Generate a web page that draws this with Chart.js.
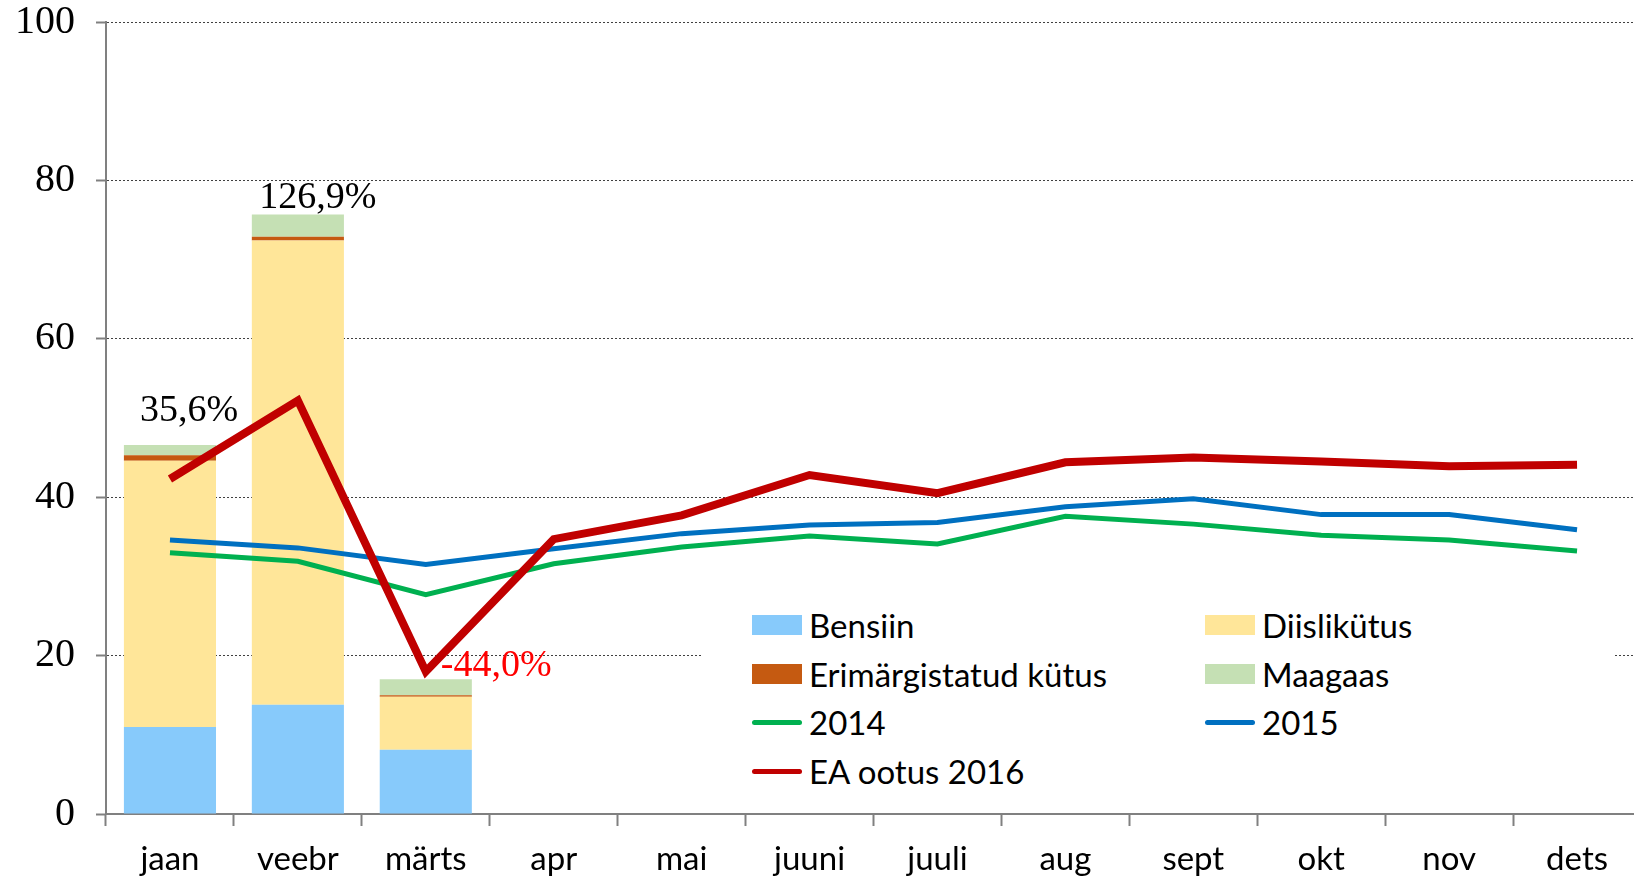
<!DOCTYPE html>
<html>
<head>
<meta charset="utf-8">
<script src="https://cdn.jsdelivr.net/npm/chart.js@4.4.1/dist/chart.umd.min.js"></script>
<style>
  html, body { margin: 0; padding: 0; background: #fff; overflow: hidden; }
  #wrap { position: relative; width: 1634px; height: 881px; overflow: hidden; }
  #fuelChart { position: absolute; left: 0; top: 0; }
  #legendBox { position: absolute; left: 703px; top: 592px; width: 910px; height: 210px; background: #fff; }
  .item { position: absolute; height: 40px; display: flex; align-items: center;
          font-family: Lato, "Open Sans", sans-serif; font-size: 33px; color: #000; white-space: nowrap; }
  .box { width: 50px; height: 20px; margin-right: 7px; }
  .line { width: 50px; height: 5px; border-radius: 3px; margin-right: 7px; }
</style>
</head>
<body>
<div id="wrap">
  <canvas id="fuelChart" width="1641" height="881"></canvas>
  <div id="legendBox"></div>
</div>
<script>
// months
const months = ['jaan', 'veebr', 'märts', 'apr', 'mai', 'juuni', 'juuli', 'aug', 'sept', 'okt', 'nov', 'dets'];

// stacked bars (2016)
const bensiin = [11.0, 13.8, 8.1, null, null, null, null, null, null, null, null, null];
const diisel  = [33.6, 58.6, 6.7, null, null, null, null, null, null, null, null, null];
const erim    = [0.7, 0.5, 0.2, null, null, null, null, null, null, null, null, null];
const maagaas = [1.3, 2.8, 2.0, null, null, null, null, null, null, null, null, null];

// lines
const y2014 = [33.0, 31.9, 27.7, 31.6, 33.7, 35.1, 34.1, 37.6, 36.6, 35.2, 34.6, 33.2];
const y2015 = [34.6, 33.6, 31.5, 33.5, 35.4, 36.5, 36.8, 38.8, 39.8, 37.8, 37.8, 35.9];
const ea2016 = [42.3, 52.2, 18.0, 34.7, 37.7, 42.8, 40.5, 44.4, 45.0, 44.5, 43.9, 44.1];

// change labels above the bars
const changeLabels = ['35,6%', '126,9%', '-44,0%'];

const yTicks = [0, 20, 40, 60, 80, 100];

const colors = {
    bensiin: '#87CAFB',
    diisel: '#FFE699',
    erim: '#C55A11',
    maagaas: '#C5E0B4',
    y2014: '#00B050',
    y2015: '#0070C0',
    ea2016: '#C00000'
};

// draws the % labels on top of the bar stacks
const changeLabelPlugin = {
    id: 'changeLabels',
    afterDatasetsDraw(chart) {
        const ctx = chart.ctx;
        const x = chart.scales.x;
        const y = chart.scales.y;
        const offsets = [
            { dx: 19, dy: -24, color: '#000', align: 'center' },
            { dx: 20, dy: -6, color: '#000', align: 'center' },
            { dx: 15, dy: -3, color: '#FF0000', align: 'left' }
        ];
        ctx.save();
        ctx.font = '38px "Liberation Serif", serif';
        ctx.textBaseline = 'alphabetic';
        changeLabels.forEach((txt, i) => {
            const total = bensiin[i] + diisel[i] + erim[i] + maagaas[i];
            const o = offsets[i];
            ctx.fillStyle = o.color;
            ctx.textAlign = o.align;
            ctx.fillText(txt, x.getPixelForValue(i) + o.dx, y.getPixelForValue(total) + o.dy);
        });
        ctx.restore();
    }
};

new Chart(document.getElementById('fuelChart'), {
    type: 'bar',
    data: {
        labels: months,
        datasets: [
            { type: 'line', label: 'EA ootus 2016', data: ea2016, borderColor: colors.ea2016, borderWidth: 8, pointRadius: 0, tension: 0, stack: 's2016', order: 1 },
            { type: 'line', label: '2015', data: y2015, borderColor: colors.y2015, borderWidth: 5, pointRadius: 0, tension: 0, stack: 's2015', order: 2 },
            { type: 'line', label: '2014', data: y2014, borderColor: colors.y2014, borderWidth: 5, pointRadius: 0, tension: 0, stack: 's2014', order: 3 },
            { label: 'Bensiin', data: bensiin, backgroundColor: colors.bensiin, stack: 'fuel', order: 10 },
            { label: 'Diislikütus', data: diisel, backgroundColor: colors.diisel, stack: 'fuel', order: 10 },
            { label: 'Erimärgistatud kütus', data: erim, backgroundColor: colors.erim, stack: 'fuel', order: 10 },
            { label: 'Maagaas', data: maagaas, backgroundColor: colors.maagaas, stack: 'fuel', order: 10 }
        ]
    },
    options: {
        responsive: false,
        animation: false,
        devicePixelRatio: 1,
        layout: { padding: { top: 22, right: 0, bottom: 0, left: 0 } },
        datasets: { bar: { categoryPercentage: 1, barPercentage: 0.72 } },
        plugins: { legend: { display: false }, tooltip: { enabled: false } },
        scales: {
            x: {
                stacked: true,
                offset: true,
                grid: { drawOnChartArea: false, drawTicks: true, tickLength: 12, tickColor: '#808080', tickWidth: 2, offset: true },
                border: { color: '#808080', width: 2 },
                ticks: { color: '#000', font: { family: 'Lato', size: 33 }, padding: 14, maxRotation: 0, autoSkip: false },
                afterFit(scale) { scale.height = 67; }
            },
            y: {
                stacked: true,
                min: 0,
                max: 100,
                afterBuildTicks(scale) { scale.ticks = yTicks.map(v => ({ value: v })); },
                grid: { color: '#404040', lineWidth: 1, tickLength: 10, tickColor: '#808080', tickWidth: 2, tickBorderDash: [] },
                border: { color: '#808080', width: 2, dash: [2, 2] },
                ticks: { color: '#000', font: { family: '"Liberation Serif"', size: 40 }, padding: 21 },
                afterFit(scale) {
                    scale.width = 106;
                    // tick padding would otherwise push the plot down
                    scale.paddingTop = 0;
                    scale.paddingBottom = 0;
                }
            }
        }
    },
    plugins: [changeLabelPlugin]
});

// legend, laid out like the original two column box
const legendItems = [
    { text: 'Bensiin', color: colors.bensiin, kind: 'box', col: 0, row: 0 },
    { text: 'Diislikütus', color: colors.diisel, kind: 'box', col: 1, row: 0 },
    { text: 'Erimärgistatud kütus', color: colors.erim, kind: 'box', col: 0, row: 1 },
    { text: 'Maagaas', color: colors.maagaas, kind: 'box', col: 1, row: 1 },
    { text: '2014', color: colors.y2014, kind: 'line', col: 0, row: 2 },
    { text: '2015', color: colors.y2015, kind: 'line', col: 1, row: 2 },
    { text: 'EA ootus 2016', color: colors.ea2016, kind: 'line', col: 0, row: 3 }
];
const wrap = document.getElementById('wrap');
legendItems.forEach(it => {
    const div = document.createElement('div');
    div.className = 'item';
    div.style.left = (it.col === 0 ? 752 : 1205) + 'px';
    div.style.top = (605 + it.row * 48.7) + 'px';
    const mark = document.createElement('span');
    mark.className = it.kind;
    mark.style.background = it.color;
    div.appendChild(mark);
    div.appendChild(document.createTextNode(it.text));
    wrap.appendChild(div);
});
</script>
</body>
</html>
